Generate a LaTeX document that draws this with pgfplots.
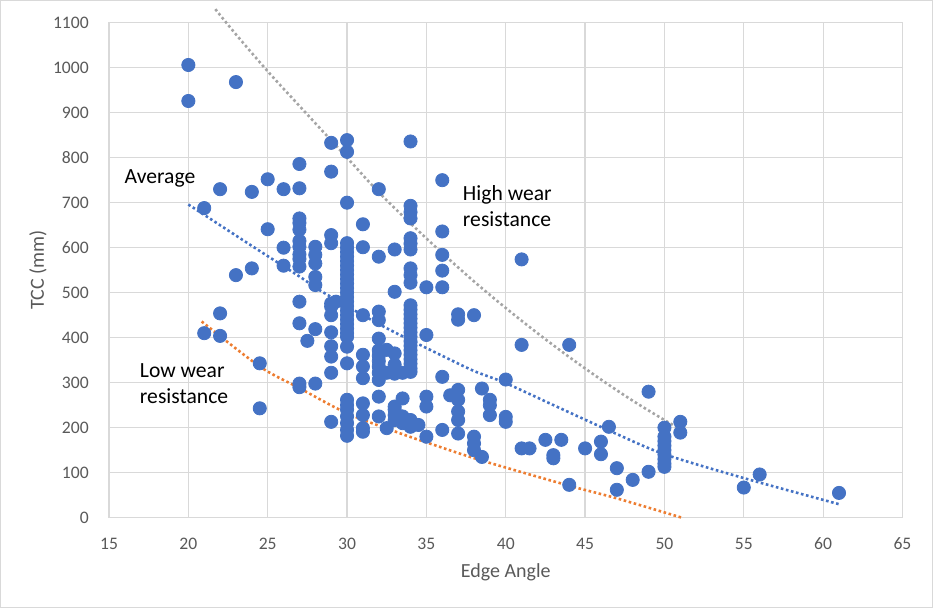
\documentclass[border=0pt]{standalone}
\usepackage{fontspec}
\setmainfont{Carlito}
\usepackage{pgfplots}
\usepackage{pgfplotstable}
\pgfplotsset{compat=1.18}
\definecolor{exblue}{HTML}{4472C4}
\definecolor{exorange}{HTML}{ED7D31}
\definecolor{exgray}{HTML}{A5A5A5}
\definecolor{gridc}{HTML}{D9D9D9}
\definecolor{tickc}{HTML}{595959}

\pgfplotstableread{
x y
20 1006
20 926
21 688
21 410
22 730
22 454
22 404
23 968
23 539
24 724
24 554
24.5 343
24.5 243
25 752
25 641
26 730
26 600
26 560
27 786
27 732
27 665
27 655
27 640
27 615
27 602
27 585
27 575
27 558
27 480
27 432
27 298
27 290
27.5 393
28 602
28 584
28 565
28 535
28 517
28 419
28 298
29 833
29 769
29 628
29 610
29 476
29 469
29.3 480
29 450
29 412
29 381
29 358
29 322
29 213
30 839
30 813
30 700
30 610
30 600
30 590
30 580
30 570
30 560
30 550
30 540
30 530
30 520
30 510
30 500
30 490
30 480
30 470
30 460
30 450
30 440
30 430
30 420
30 410
30 402
30 380
30 343
30 262
30 250
30 240
30 225
30 210
30 195
30 182
31 652
31 601
31 450
31 362
31 336
31 310
31 254
31 228
31 199
31 191
32 730
32 580
32 458
32 439
32 398
32 372
32 360
32 348
32 336
32 322
32 306
32 269
32 225
32.5 373
32.5 322
32.5 199
33 596
33 502
33 365
33 340
33 320
33 247
33 240
33 217
33 228
33.5 265
33.5 322
33.5 225
33.5 210
34 836
34 693
34 679
34 665
34 621
34 609
34 596
34 554
34 539
34 522
34 472
34 462
34 452
34 442
34 432
34 422
34 412
34 402
34 392
34 382
34 372
34 362
34 352
34 342
34 332
34 324
34 217
34 202
34.5 206
35 512
35 406
35 269
35 247
35 180
36 750
36 636
36 584
36 549
36 512
36 313
36 195
36.5 272
37 452
37 440
37 284
37 262
37 236
37 217
37 187
38 450
38 180
38 165
38 150
38.5 287
38.5 135
39 262
39 250
39 228
40 307
40 224
40 213
41 574
41 384
41 154
41.5 154
42.5 173
43 139
43 132
43.5 173
44 384
44 73
45 154
46 169
46 141
46.5 202
47 110
47 62
48 84
49 280
49 102
50 200
50 180
50 170
50 160
50 150
50 140
50 130
50 120
50 113
51 213
51 189
55 67
56 96
61 55
}\scatterdata

\begin{document}
\begin{tikzpicture}
\useasboundingbox (0,0) rectangle (466.5pt,304pt);
\draw[gridc, line width=0.5pt] (0.25pt,0.25pt) rectangle (466.25pt,303.75pt);
\begin{axis}[
  at={(54.5pt,45.15pt)}, anchor=south west,
  scale only axis, width=396.75pt, height=247.5pt,
  xmin=15, xmax=65, ymin=0, ymax=1100,
  xtick={15,20,...,65}, ytick={0,100,...,1100},
  grid=major,
  grid style={gridc, line width=0.6pt},
  axis line style={gridc, line width=0.6pt},
  major tick length=0pt,
  clip=false,
  /pgf/number format/assume math mode=true,
  /pgf/number format/1000 sep={},
  ticklabel style={font=\fontsize{8.8}{10}\selectfont, text=tickc},
  yticklabel style={xshift=-6.6pt},
  xticklabel style={yshift=-6.5pt},
  xlabel={Edge Angle},
  ylabel={TCC (mm)},
  label style={font=\fontsize{10}{12}\selectfont, text=tickc},
  xlabel style={at={(axis description cs:0.5,-0.110)}, anchor=center},
  ylabel style={at={(axis description cs:-0.0895,0.5)}, anchor=center},
]
\addplot[only marks, mark=*, mark size=3.3pt, exblue, mark options={draw=exblue, fill=exblue}] table[x=x, y=y] {\scatterdata};

% Average trend
\addplot[exblue, line width=1.3pt, dash pattern=on 1.3pt off 1.3pt, smooth, no markers] coordinates {
(20,696) (24,604) (27,536) (28.3,505) (30.8,454) (32.5,421) (34.6,384) (36.1,358) (38,326) (40,299) (43.2,247) (46.8,189) (50,141) (55,88) (61,30)
};
% High wear trend
\addplot[exgray, line width=1.3pt, dash pattern=on 1.3pt off 1.3pt, smooth, no markers] coordinates {
(21.7,1130) (23,1074) (25,992) (27,915) (30,800) (32,723) (34,654) (36,588) (38,525) (40,466) (42,410) (44,357) (46,307) (48,260) (50,217) (51.1,195)
};
% Low wear trend
\addplot[exorange, line width=1.3pt, dash pattern=on 1.3pt off 1.3pt, smooth, no markers] coordinates {
(20.84,436) (24.5,336) (27,288) (30,232) (33.3,188) (35.2,165) (38.4,128) (43.8,73) (47,43) (51.1,0)
};

\node[font=\fontsize{10.8}{13}\selectfont, anchor=center] at (axis cs:18.21,755) {Average};
\node[font=\fontsize{10.8}{13}\selectfont, align=left, anchor=center] at (axis cs:40.1,692) {High wear\\resistance};
\node[font=\fontsize{10.8}{13}\selectfont, align=left, anchor=center] at (axis cs:19.73,297) {Low wear\\resistance};
\end{axis}
\end{tikzpicture}
\end{document}
